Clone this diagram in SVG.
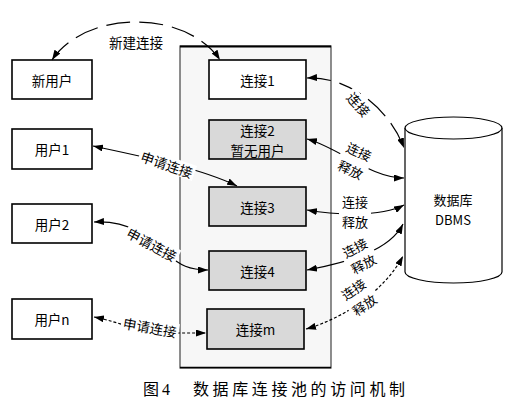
<svg xmlns="http://www.w3.org/2000/svg" width="516" height="411" viewBox="0 0 516 411">
<defs>
<marker id="ah" viewBox="0 0 10 7" refX="10" refY="3.5" markerUnits="userSpaceOnUse" markerWidth="10" markerHeight="7" orient="auto-start-reverse">
<path d="M0,0 L10,3.5 L0,7 z" fill="#000"/>
</marker>
<style>
text{font-family:"Noto Sans CJK SC","DejaVu Sans",sans-serif;font-size:13.5px;fill:#000;text-anchor:middle;dominant-baseline:central}
text.two{font-size:13px}
.box{fill:#fff;stroke:#000;stroke-width:1.6}
.gray{fill:#d9d9d9}
.c{fill:none;stroke:#000;stroke-width:1.2;marker-start:url(#ah);marker-end:url(#ah)}
.dash{stroke-dasharray:24 9}
.dot{stroke-dasharray:3 2}
.bg{fill:#fff}
.cap{font-family:"Liberation Serif","Noto Sans CJK SC",serif;font-size:16px;text-anchor:start}
</style>
</defs>
<rect width="516" height="411" fill="#fff"/>

<g id="pool">
<rect x="180" y="46" width="151" height="322" fill="#f7f7f7" stroke="#444" stroke-width="1.2"/>
<line x1="180" y1="46.5" x2="331" y2="46.5" stroke="#000" stroke-width="2"/>
<line x1="180" y1="367.5" x2="331" y2="367.5" stroke="#000" stroke-width="1.6"/>
</g>

<g id="users">
<g id="newuser"><rect class="box" x="12" y="60" width="80" height="39"/><text x="52" y="80">新用户</text></g>
<g id="user1"><rect class="box" x="12" y="129" width="80" height="40"/><text x="52" y="149">用户1</text></g>
<g id="user2"><rect class="box" x="12" y="204" width="80" height="39"/><text x="52" y="224">用户2</text></g>
<g id="usern"><rect class="box" x="12" y="299" width="80" height="40"/><text x="52" y="319">用户n</text></g>
</g>

<g id="conns">
<g id="conn1"><rect class="box" x="209" y="60" width="97" height="39"/><text x="257.5" y="80">连接1</text></g>
<g id="conn2"><rect class="box gray" x="209" y="120" width="97" height="39"/><text x="257.5" y="130">连接2<tspan x="257.5" dy="20">暂无用户</tspan></text></g>
<g id="conn3"><rect class="box gray" x="209" y="187" width="97" height="39"/><text x="257.5" y="207">连接3</text></g>
<g id="conn4"><rect class="box gray" x="209" y="251" width="97" height="39"/><text x="257.5" y="271">连接4</text></g>
<g id="connm"><rect class="box gray" x="207" y="309" width="97" height="40"/><text x="255.5" y="329">连接m</text></g>
</g>

<g id="dbms">
<path d="M405,128 L405,272 A48.5,11 0 0 0 502,272 L502,128" fill="#fff" stroke="#000" stroke-width="1.2"/>
<ellipse cx="453.5" cy="128" rx="48.5" ry="11" fill="#fff" stroke="#000" stroke-width="1.2"/>
<text class="two" x="453" y="199">数据库<tspan x="453" dy="19.5">DBMS</tspan></text>
</g>

<g id="connectors">
<path class="c dash" d="M52,60 C65,40 95,22 136,22 C177,22 207,40 220,60"/>
<path class="c" d="M93,146 C140,156 200,168 237,186"/>
<path class="c" d="M94,222 C130,220 150,238 165,252 S190,270 208,270"/>
<path class="c dot" d="M94,317 C120,322 140,333 170,333 L206,333"/>
<path class="c dash" d="M307,78 C350,76 390,110 404,148"/>
<path class="c" d="M307,139 C340,148 370,178 404,178"/>
<path class="c" d="M307,210 C330,214 380,218 404,205"/>
<path class="c" d="M307,270 C350,262 390,250 403,224"/>
<path class="c dot" d="M306,329 C345,318 385,290 403,256"/>

<text x="136" y="42">新建连接</text>
<g transform="translate(167,164) rotate(19)"><rect class="bg" x="-29" y="-8" width="58" height="16"/><text x="0" y="0">申请连接</text></g>
<g transform="translate(152,244) rotate(28)"><rect class="bg" x="-29" y="-8" width="58" height="16"/><text x="0" y="0">申请连接</text></g>
<g transform="translate(150,327) rotate(10)"><rect class="bg" x="-29" y="-8" width="58" height="16"/><text x="0" y="0">申请连接</text></g>
<g transform="translate(359,104) rotate(48)"><rect class="bg" x="-16" y="-8" width="32" height="16"/><text x="0" y="0">连接</text></g>
<g transform="translate(355,160) rotate(25)"><rect class="bg" x="-16" y="-18" width="32" height="36"/><text class="two" x="0" y="-9.5">连接<tspan x="0" dy="19.5">释放</tspan></text></g>
<g transform="translate(355,211)"><rect class="bg" x="-16" y="-18" width="32" height="36"/><text class="two" x="0" y="-9.5">连接<tspan x="0" dy="19.5">释放</tspan></text></g>
<g transform="translate(359,255.5) rotate(-28)"><rect class="bg" x="-16" y="-18" width="32" height="36"/><text class="two" x="0" y="-9">连接<tspan x="0" dy="18">释放</tspan></text></g>
<g transform="translate(358.5,296.5) rotate(-35)"><rect class="bg" x="-16" y="-18" width="32" height="36"/><text class="two" x="0" y="-9">连接<tspan x="0" dy="18.5">释放</tspan></text></g>
</g>

<text class="cap" y="389"><tspan x="143">图</tspan><tspan x="162">4</tspan><tspan x="193" letter-spacing="3.6">数据库连接池的访问机制</tspan></text>
</svg>
